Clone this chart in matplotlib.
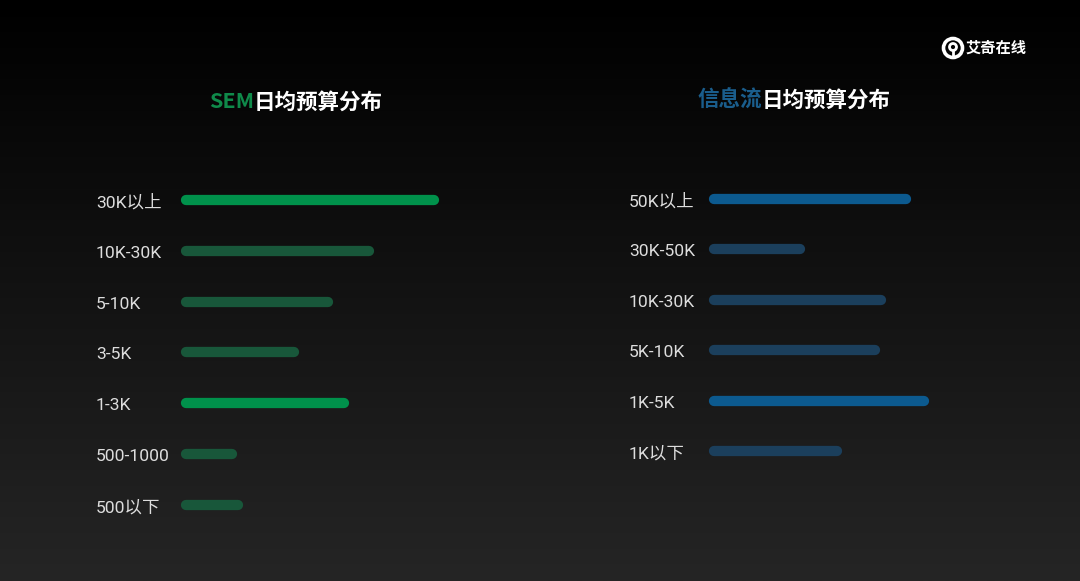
import numpy as np
import matplotlib
matplotlib.use('Agg')
import matplotlib.pyplot as plt
from matplotlib.transforms import blended_transform_factory
from matplotlib.patches import Circle

plt.rcParams['font.family'] = ['Noto Sans CJK SC', 'DejaVu Sans']

# SEM daily budget distribution (bar lengths, arbitrary units)
sem_labels = ['30K以上', '10K-30K', '5-10K', '3-5K', '1-3K', '500-1000', '500以下']
sem_values = [248, 183, 142, 108, 158, 46, 52]
sem_highlight = [True, False, False, False, True, False, False]

# feed ads daily budget distribution
feed_labels = ['50K以上', '30K-50K', '10K-30K', '5K-10K', '1K-5K', '1K以下']
feed_values = [192, 86, 167, 161, 210, 123]
feed_highlight = [True, False, False, False, True, False]

W, H = 1080, 581
fig = plt.figure(figsize=(W / 100, H / 100), dpi=100)

# background gradient, black at the top to dark grey at the bottom
bg = fig.add_axes([0, 0, 1, 1], zorder=-5)
grad = np.linspace(0, 1, 256).reshape(-1, 1)
bg.imshow(grad, cmap=matplotlib.colors.LinearSegmentedColormap.from_list('bg', ['#000000', '#252525']),
          aspect='auto', extent=[0, W, H, 0])
bg.set_xlim(0, W)
bg.set_ylim(H, 0)
bg.axis('off')

# logo top right
bg.add_patch(Circle((953, 48), 9.5, fill=False, ec='white', lw=2.6))
bg.add_patch(Circle((953, 47), 3.5, fill=False, ec='white', lw=2.0))
bg.plot([953, 953], [51, 57], color='white', lw=2.0)
bg.text(966, 48, '艾奇在线', color='white', fontsize=11, fontweight='bold',
        va='center', ha='left')


def panel(x0, top_c, step, labels, values, highlight, c_hi, c_lo, label_x):
    n = len(labels)
    top = top_c - step / 2
    bottom = top + step * n
    ax = fig.add_axes([x0 / W, 1 - bottom / H, 320 / W, (bottom - top) / H])
    ax.set_xlim(0, 320)
    ax.set_ylim(n - 0.5, -0.5)
    ax.axis('off')
    ax.patch.set_alpha(0)
    for i, (v, hi) in enumerate(zip(values, highlight)):
        ax.plot([0, v], [i, i], color=c_hi if hi else c_lo, lw=7.4,
                solid_capstyle='round', clip_on=False)
    tr = blended_transform_factory(fig.transFigure, ax.transData)
    for i, lab in enumerate(labels):
        ax.text(label_x / W, i + 0.05, lab, transform=tr, color='#dddddd',
                fontsize=12.6, ha='left', va='center',
                family=['Roboto', 'Noto Sans CJK SC'])
    return ax


panel(186, 200, 50.8, sem_labels, sem_values, sem_highlight,
      '#00914b', '#18573a', 96)
panel(714, 199, 50.4, feed_labels, feed_values, feed_highlight,
      '#0c5a8f', '#1b3f5c', 629)

# titles, two colours each
bg.text(254, 102, 'SEM', color='#0f8a4a', fontsize=15.5, fontweight='bold',
        ha='right', va='center')
bg.text(254, 102, '日均预算分布', color='white', fontsize=15.5, fontweight='bold',
        ha='left', va='center')
bg.text(762, 100, '信息流', color='#1a5d8c', fontsize=15.5, fontweight='bold',
        ha='right', va='center')
bg.text(762, 100, '日均预算分布', color='white', fontsize=15.5, fontweight='bold',
        ha='left', va='center')

fig.savefig('out.png', dpi=100)
